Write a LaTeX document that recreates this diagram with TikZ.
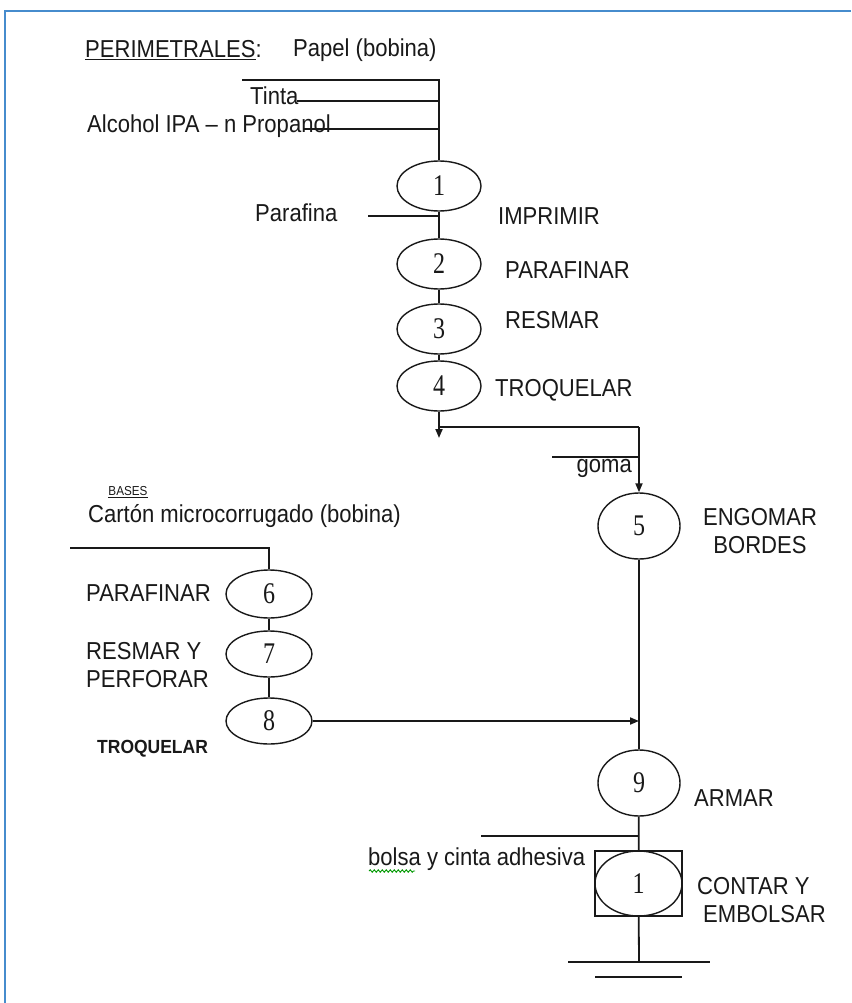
\documentclass[tikz,border=0pt]{standalone}
\usepackage{fontspec}
\setmainfont{Liberation Sans}
\newfontfamily\numfont{Liberation Serif}
\usetikzlibrary{arrows.meta,shapes.geometric,decorations.pathmorphing}
\newcommand{\sq}[1]{\scalebox{0.9}[1]{#1}}
\newcommand{\nq}[1]{\scalebox{0.8}[1]{#1}}
\definecolor{framec}{RGB}{70,140,205}
\definecolor{ink}{RGB}{25,25,25}
\begin{document}
\begin{tikzpicture}[x=1pt,y=-1pt,
  proc/.style={draw=ink, ellipse, minimum width=84pt, minimum height=50pt, inner sep=0pt, line width=1.4pt, text=ink, font=\numfont\fontsize{30}{30}\selectfont},
  bigproc/.style={proc, minimum width=82pt, minimum height=66pt},
  lbl/.style={anchor=west, inner sep=0pt, text=ink, font=\fontsize{24.5}{28}\selectfont},
  ln/.style={draw=ink, line width=1.8pt},
  arr/.style={ln, -{Triangle[length=9pt,width=7pt]}}]
\useasboundingbox (0,0) rectangle (851,1003);
\fill[white] (0,0) rectangle (851,1003);
\draw[framec, line width=1.5pt] (5,1003) -- (5,11) -- (851,11);

% ---------- header texts ----------
\node[lbl] (perim) at (85,50) {\sq{\underline{PERIMETRALES}:}};
\node[lbl] (papel) at (293,50) {\sq{Papel (bobina)}};
\node[lbl] (tinta) at (250,96) {\sq{Tinta}};
\node[lbl] (alcohol) at (87,126) {\sq{Alcohol IPA -- n Propanol}};

% ---------- main column ----------
\node[proc] (e1) at (439,186) {\nq{1}};
\node[proc] (e2) at (439,264) {\nq{2}};
\node[proc] (e3) at (439,329) {\nq{3}};
\node[proc] (e4) at (439,386) {\nq{4}};

\node[lbl] (imprimir) at (498,216) {\sq{IMPRIMIR}};
\node[lbl] (parafinar1) at (505,270) {\sq{PARAFINAR}};
\node[lbl] (resmar1) at (505,320) {\sq{RESMAR}};
\node[lbl] (troq1) at (495,390) {\sq{TROQUELAR}};
\node[lbl] (parafina) at (255,213) {\sq{Parafina}};

\coordinate (topL) at (242,80);
\coordinate (topR) at (439,80);
\coordinate (tinL) at (297,101);
\coordinate (tinR) at (439,101);
\coordinate (alcL) at (303,129);
\coordinate (alcR) at (439,129);
\coordinate (parL) at (368,216);
\coordinate (parR) at (439,216);

\draw[ln] (topL) -- (topR) -- (e1);
\draw[ln] (tinL) -- (tinR);
\draw[ln] (alcL) -- (alcR);
\draw[ln] (parL) -- (parR);
\draw[ln] (e1) -- (e2);
\draw[ln] (e2) -- (e3);
\draw[ln] (e3) -- (e4);

\coordinate (stub) at (439,438);
\coordinate (jA) at (439,427);
\coordinate (jB) at (639,427);
\draw[arr] (e4) -- (stub);

% ---------- right column ----------
\node[bigproc] (e5) at (639,526) {\nq{5}};
\node[bigproc] (e9) at (639,783) {\nq{9}};
\draw[ln] (jA) -- (jB);
\draw[arr] (jB) -- (e5);

\coordinate (gomaL) at (552,457);
\coordinate (gomaR) at (639,457);
\draw[ln] (gomaL) -- (gomaR);
\node[lbl, anchor=east] (goma) at (632,468) {\sq{goma}};

\node[inner sep=0pt, align=center, text=ink, font=\fontsize{24.5}{28}\selectfont] (engomar) at (760,531) {\sq{ENGOMAR}\\\sq{BORDES}};
\node[lbl] (armar) at (694,798) {\sq{ARMAR}};

\draw[ln] (e5) -- (e9);

% ---------- left column ----------
\node[inner sep=0pt, text=ink, font=\fontsize{13}{15}\selectfont] (bases) at (128,492) {\sq{\underline{BASES}}};
\node[lbl] (carton) at (88,516) {\sq{Cartón microcorrugado (bobina)}};

\node[proc, minimum width=86pt, minimum height=48pt] (e6) at (269,594) {\nq{6}};
\node[proc, minimum width=86pt, minimum height=46pt] (e7) at (269,654) {\nq{7}};
\node[proc, minimum width=86pt, minimum height=46pt] (e8) at (269,721) {\nq{8}};

\node[lbl] (parafinar2) at (86,593) {\sq{PARAFINAR}};
\node[lbl] (resmary) at (86,651) {\sq{RESMAR Y}};
\node[lbl] (perforar) at (86,679) {\sq{PERFORAR}};
\node[lbl, font=\bfseries\fontsize{19}{22}\selectfont] (troq2) at (97,749) {\scalebox{0.92}[1]{TROQUELAR}};

\coordinate (cartL) at (70,548);
\coordinate (cartR) at (269,548);
\draw[ln] (cartL) -- (cartR) -- (e6);
\draw[ln] (e6) -- (e7);
\draw[ln] (e7) -- (e8);

\coordinate (joinB) at (639,721);
\draw[arr] (e8.east) -- (joinB);

% ---------- bottom ----------
\node[draw=ink, line width=1.4pt, minimum width=87pt, minimum height=65pt, inner sep=0pt] (box) at (638.5,883.5) {};
\node[proc, minimum width=87pt, minimum height=65pt] (e10) at (638.5,883.5) {\nq{1}};

\coordinate (bolL) at (481,836);
\coordinate (bolR) at (639,836);
\draw[ln] (e9) -- (box);
\draw[ln] (bolL) -- (bolR);
\node[lbl] (bolsa) at (368,859) {\sq{bolsa y cinta adhesiva}};
\coordinate (wavL) at (369,871);
\coordinate (wavR) at (415,871);
\draw[green!60!black, line width=0.9pt, decorate, decoration={snake, segment length=4pt, amplitude=1.2pt}] (wavL) -- (wavR);

\node[lbl] (contar) at (697,886) {\sq{CONTAR Y}};
\node[lbl] (embolsar) at (703,914) {\sq{EMBOLSAR}};

\coordinate (gnd) at (639,962);
\coordinate (g1L) at (568,962);
\coordinate (g1R) at (710,962);
\coordinate (g2L) at (595,977);
\coordinate (g2R) at (682,977);
\draw[ln] (box) -- (gnd);
\draw[ln] (g1L) -- (g1R);
\draw[ln] (g2L) -- (g2R);
\end{tikzpicture}
\end{document}
